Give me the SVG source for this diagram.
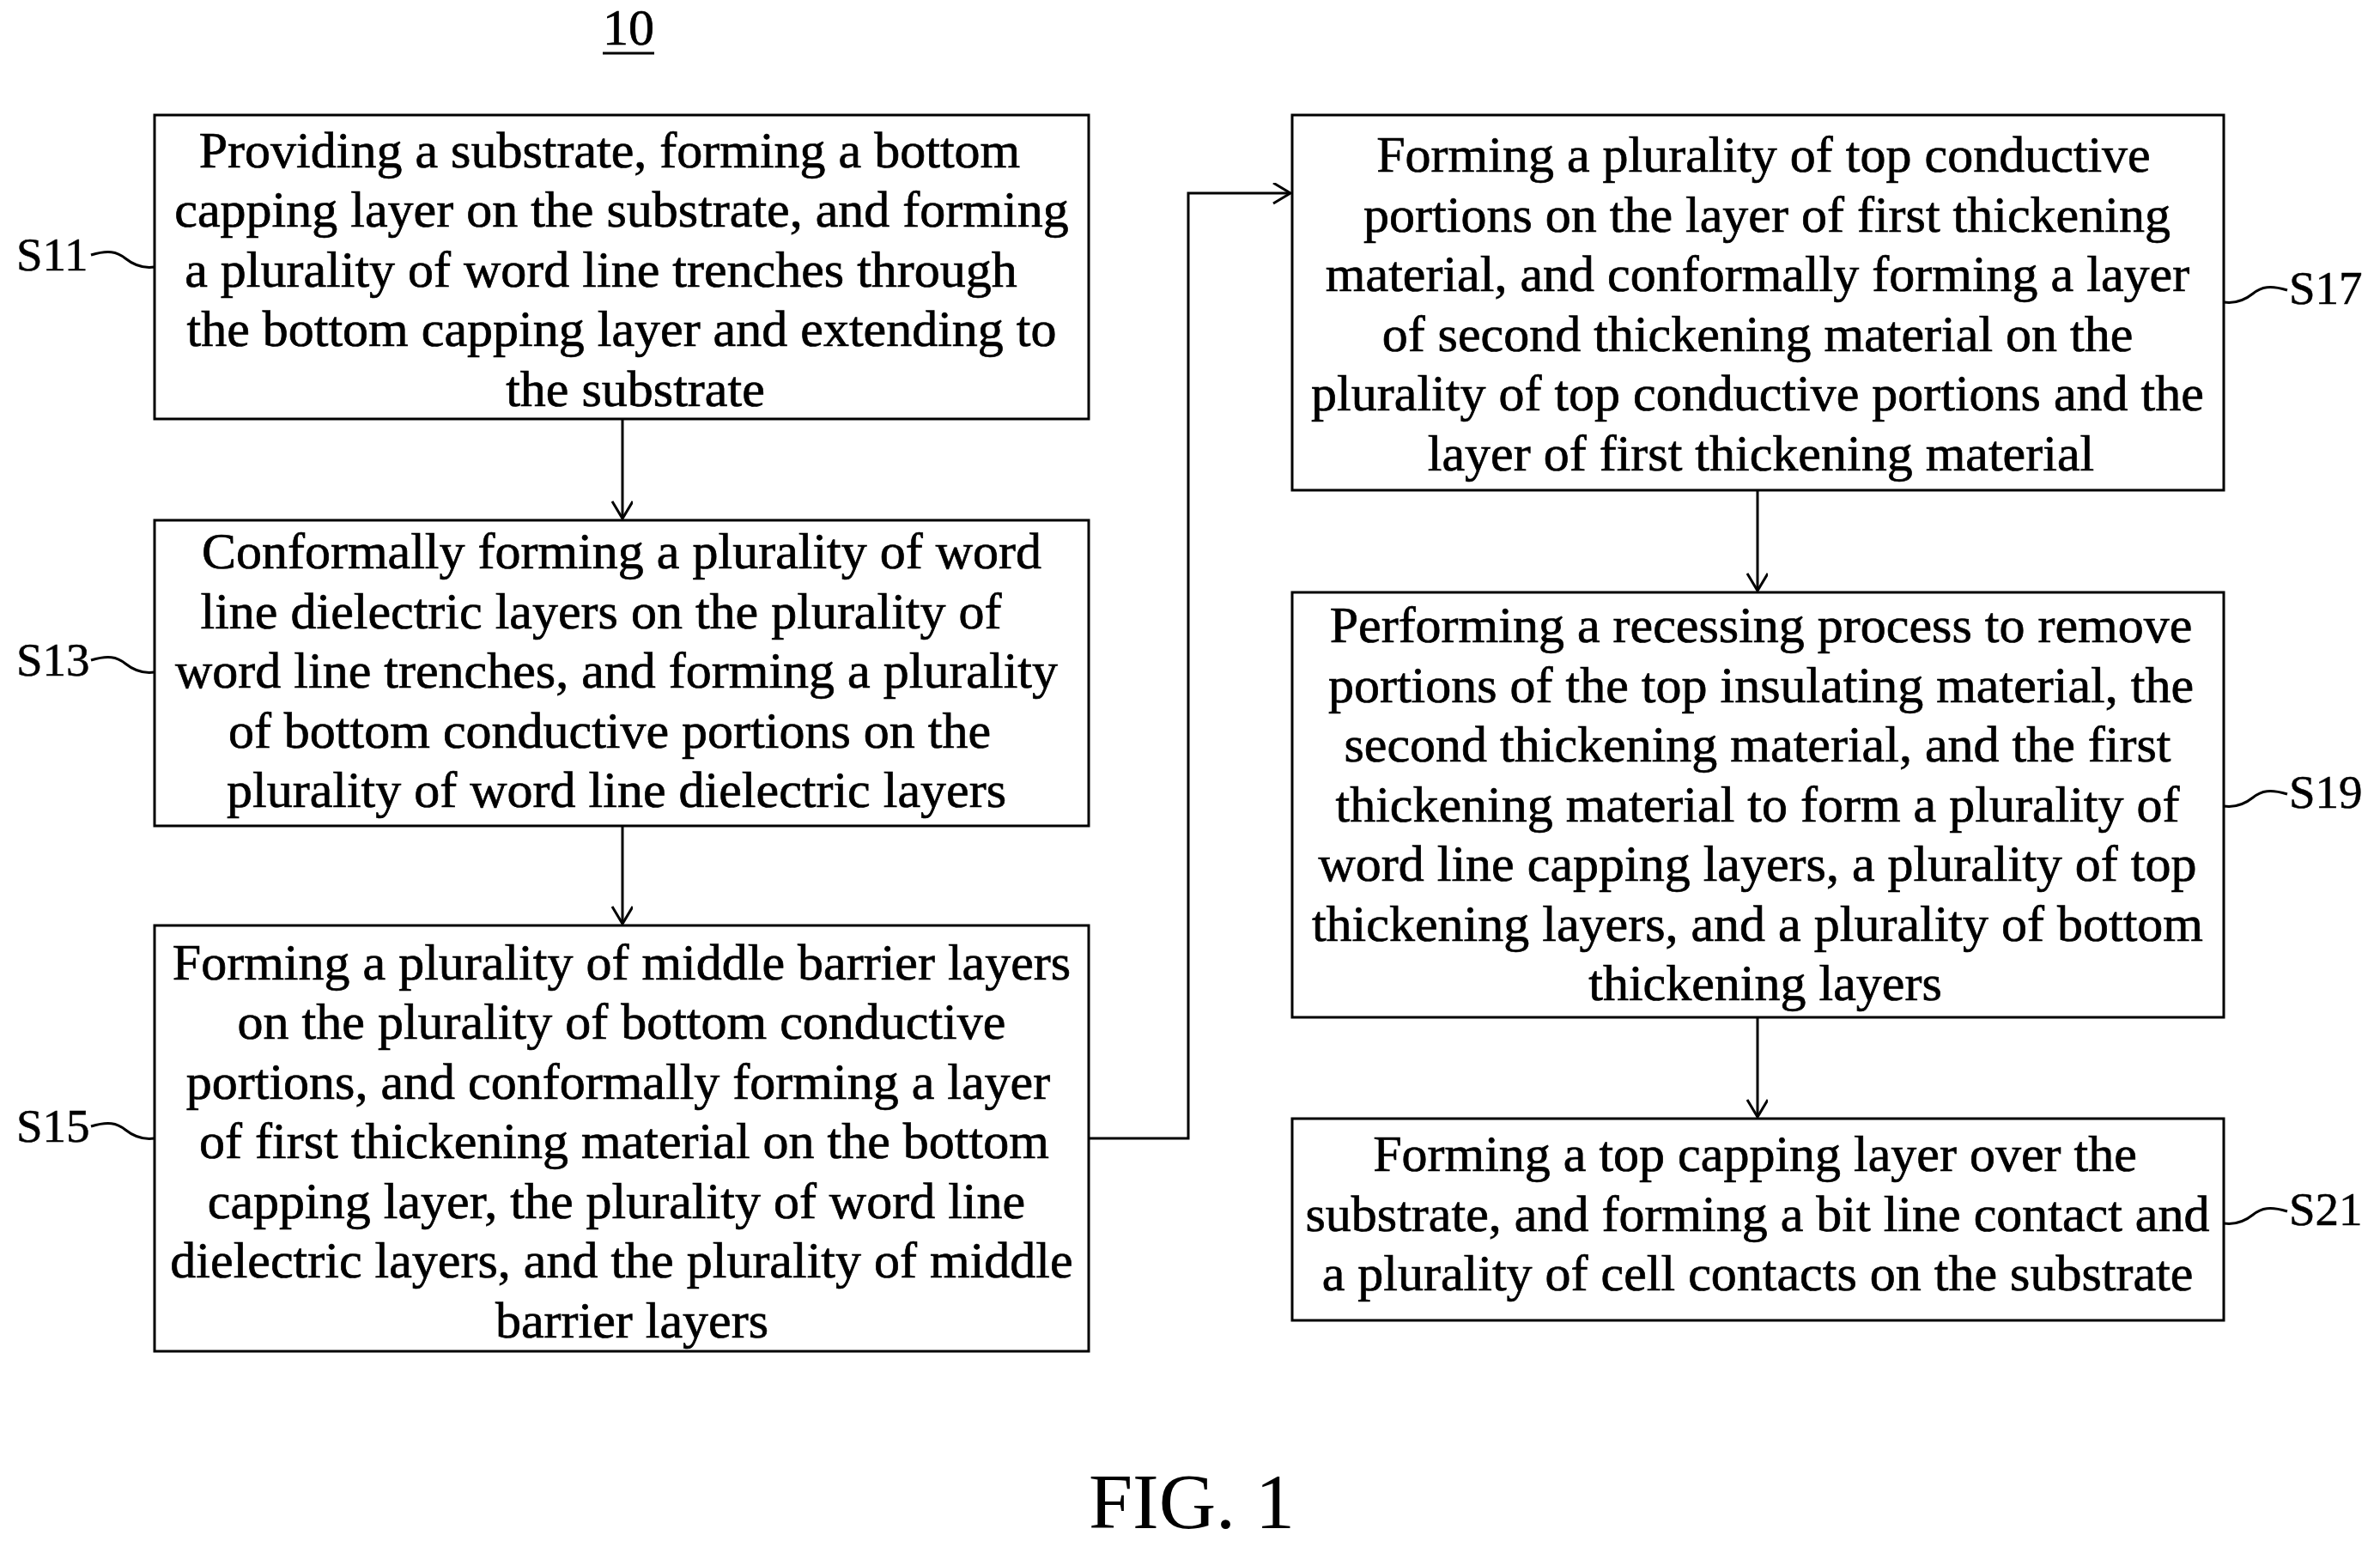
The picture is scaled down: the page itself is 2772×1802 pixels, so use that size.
<svg xmlns="http://www.w3.org/2000/svg" width="2772" height="1802" viewBox="0 0 2772 1802">
<style>
.b{fill:#fff;stroke:#000;stroke-width:3}
.t{font-family:"Liberation Serif",serif;font-size:60px;text-anchor:middle;fill:#000;stroke:#000;stroke-width:0.7}
.l{font-family:"Liberation Serif",serif;font-size:55px;fill:#000;stroke:#000;stroke-width:0.5}
.c{fill:none;stroke:#000;stroke-width:3}
</style>
<defs><marker id="a" markerWidth="30" markerHeight="30" refX="22" refY="12" orient="auto" markerUnits="userSpaceOnUse"><path d="M2,0 L22,12 L2,24" fill="none" stroke="#000" stroke-width="3"/></marker></defs>
<rect width="2772" height="1802" fill="#fff"/>
<text class="t" x="732" y="52">10</text>
<line x1="702" y1="62" x2="762" y2="62" stroke="#000" stroke-width="3"/>
<g id="connectors">
<line class="c" x1="725" y1="488" x2="725" y2="604" marker-end="url(#a)"/>
<line class="c" x1="725" y1="962" x2="725" y2="1076" marker-end="url(#a)"/>
<polyline class="c" points="1268,1326 1384,1326 1384,225 1503,225" marker-end="url(#a)"/>
<line class="c" x1="2047" y1="571" x2="2047" y2="688" marker-end="url(#a)"/>
<line class="c" x1="2047" y1="1185" x2="2047" y2="1301" marker-end="url(#a)"/>
<path class="c" d="M106,297 c20,-6 30,-4 40,4 c10,8 20,12 34,10"/>
<path class="c" d="M106,769 c20,-6 30,-4 40,4 c10,8 20,12 34,10"/>
<path class="c" d="M106,1312 c20,-6 30,-4 40,4 c10,8 20,12 34,10"/>
<path class="c" d="M2590,352 c14,2 24,-2 34,-10 c10,-8 20,-10 40,-4"/>
<path class="c" d="M2590,939 c14,2 24,-2 34,-10 c10,-8 20,-10 40,-4"/>
<path class="c" d="M2590,1425 c14,2 24,-2 34,-10 c10,-8 20,-10 40,-4"/>
</g>
<g id="S11"><rect class="b" x="180" y="134" width="1088" height="354"/>
<text class="t" x="710" y="195">Providing a substrate, forming a bottom</text>
<text class="t" x="724" y="264">capping layer on the substrate, and forming</text>
<text class="t" x="700" y="334">a plurality of word line trenches through</text>
<text class="t" x="724" y="403">the bottom capping layer and extending to</text>
<text class="t" x="740" y="473">the substrate</text>
<text class="l" x="19" y="315">S11</text></g>
<g id="S13"><rect class="b" x="180" y="606" width="1088" height="356"/>
<text class="t" x="724" y="662">Conformally forming a plurality of word</text>
<text class="t" x="700" y="732">line dielectric layers on the plurality of</text>
<text class="t" x="718" y="801">word line trenches, and forming a plurality</text>
<text class="t" x="710" y="871">of bottom conductive portions on the</text>
<text class="t" x="718" y="940">plurality of word line dielectric layers</text>
<text class="l" x="19" y="787">S13</text></g>
<g id="S15"><rect class="b" x="180" y="1078" width="1088" height="496"/>
<text class="t" x="724" y="1141">Forming a plurality of middle barrier layers</text>
<text class="t" x="724" y="1210">on the plurality of bottom conductive</text>
<text class="t" x="720" y="1280">portions, and conformally forming a layer</text>
<text class="t" x="727" y="1349">of first thickening material on the bottom</text>
<text class="t" x="718" y="1419">capping layer, the plurality of word line</text>
<text class="t" x="724" y="1488">dielectric layers, and the plurality of middle</text>
<text class="t" x="736" y="1558">barrier layers</text>
<text class="l" x="19" y="1330">S15</text></g>
<g id="S17"><rect class="b" x="1505" y="134" width="1085" height="437"/>
<text class="t" x="2054" y="200">Forming a plurality of top conductive</text>
<text class="t" x="2058" y="270">portions on the layer of first thickening</text>
<text class="t" x="2047" y="339">material, and conformally forming a layer</text>
<text class="t" x="2047" y="409">of second thickening material on the</text>
<text class="t" x="2047" y="478">plurality of top conductive portions and the</text>
<text class="t" x="2051" y="548">layer of first thickening material</text>
<text class="l" x="2666" y="354">S17</text></g>
<g id="S19"><rect class="b" x="1505" y="690" width="1085" height="495"/>
<text class="t" x="2051" y="748">Performing a recessing process to remove</text>
<text class="t" x="2051" y="818">portions of the top insulating material, the</text>
<text class="t" x="2047" y="887">second thickening material, and the first</text>
<text class="t" x="2047" y="957">thickening material to form a plurality of</text>
<text class="t" x="2047" y="1026">word line capping layers, a plurality of top</text>
<text class="t" x="2047" y="1096">thickening layers, and a plurality of bottom</text>
<text class="t" x="2056" y="1165">thickening layers</text>
<text class="l" x="2666" y="941">S19</text></g>
<g id="S21"><rect class="b" x="1505" y="1303" width="1085" height="235"/>
<text class="t" x="2044" y="1364">Forming a top capping layer over the</text>
<text class="t" x="2047" y="1434">substrate, and forming a bit line contact and</text>
<text class="t" x="2047" y="1503">a plurality of cell contacts on the substrate</text>
<text class="l" x="2666" y="1427">S21</text></g>
<text x="1388" y="1780" style="font-family:'Liberation Serif',serif;font-size:92px;text-anchor:middle">FIG. 1</text>
</svg>
